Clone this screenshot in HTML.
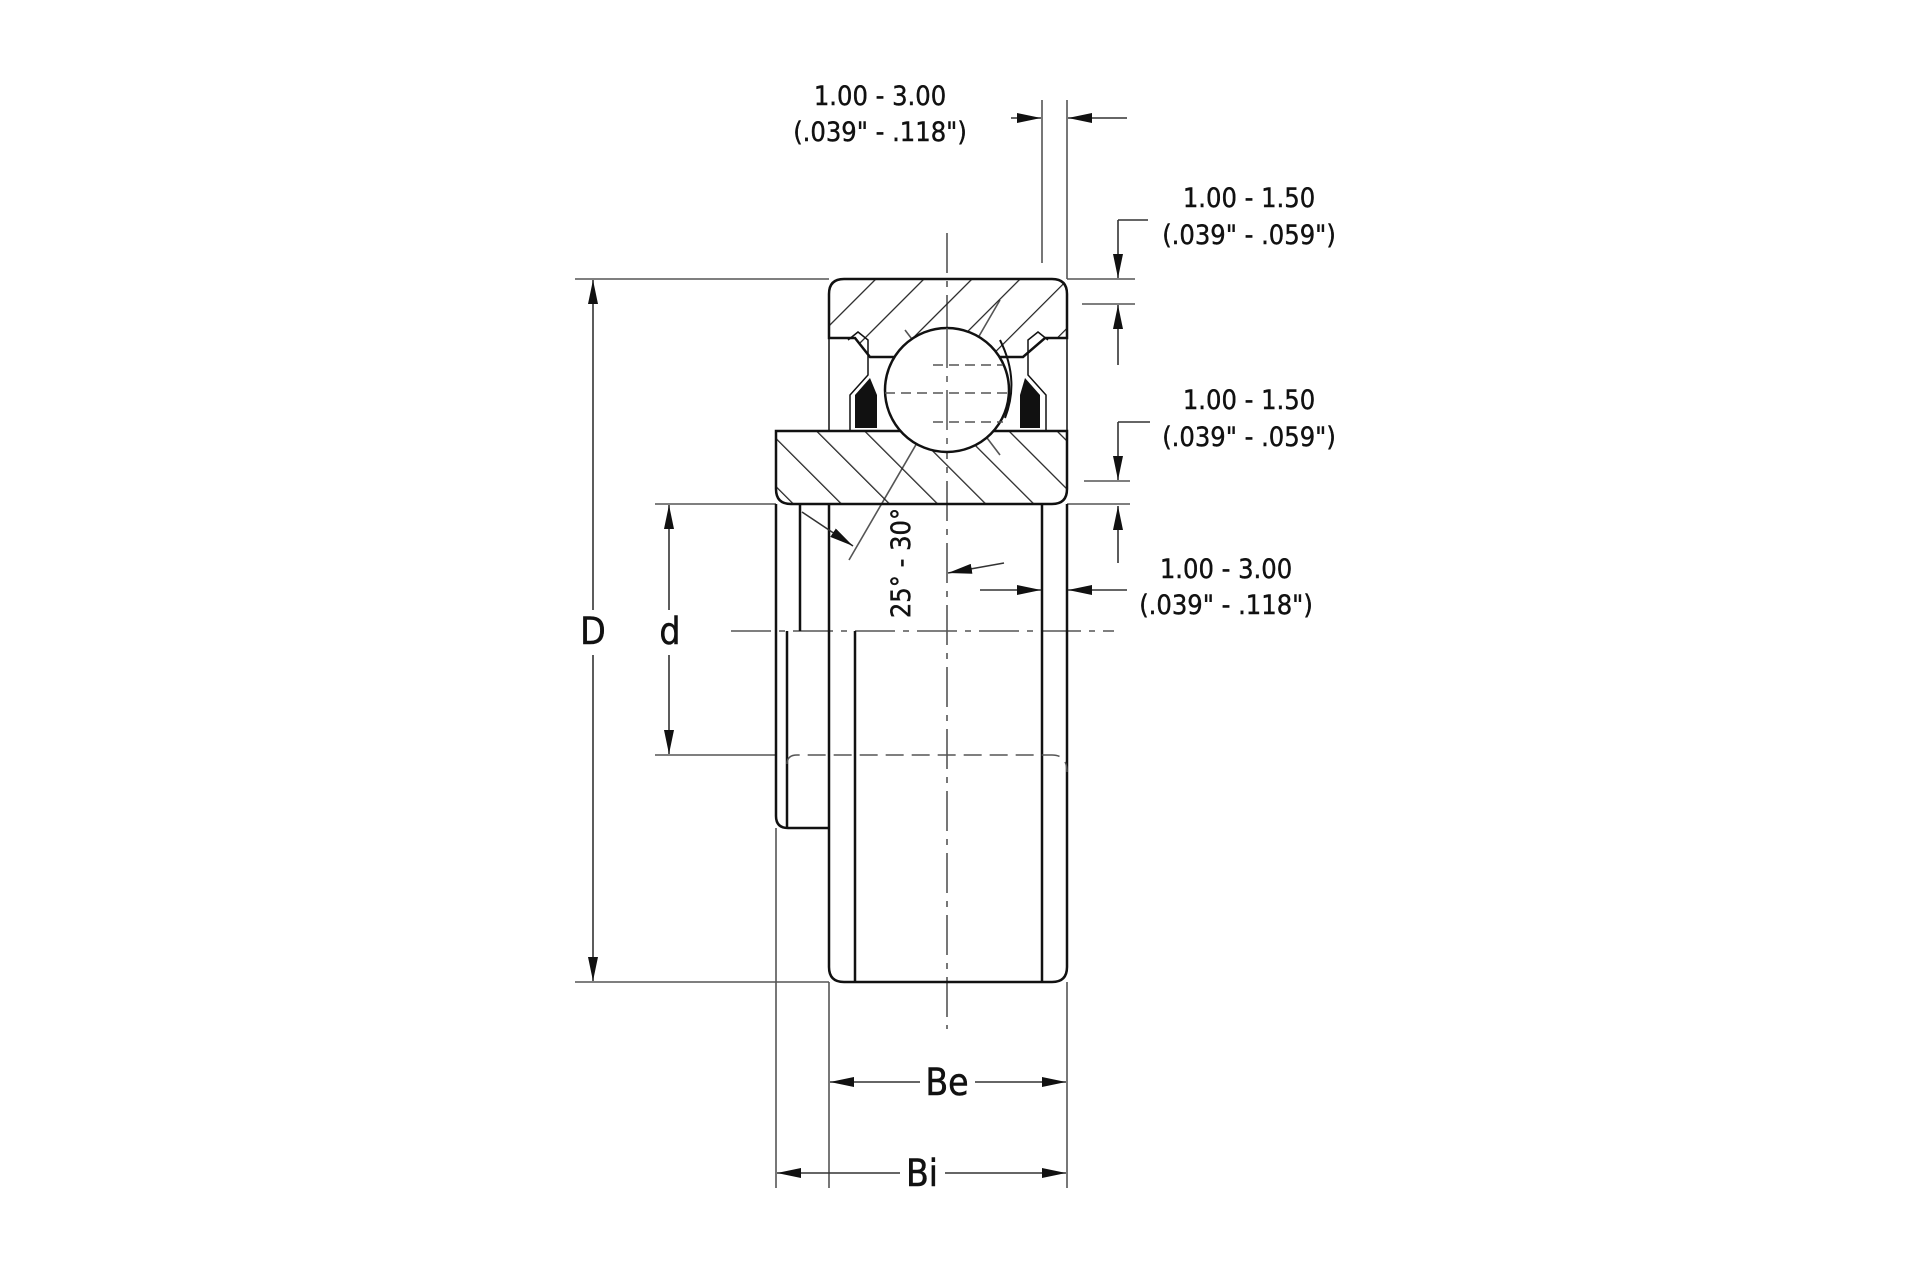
<!DOCTYPE html>
<html><head><meta charset="utf-8"><style>
html,body{margin:0;padding:0;background:#fff;}
svg{display:block;}
text{font-family:"DejaVu Sans Condensed","DejaVu Sans","Liberation Sans",sans-serif;fill:#111;}
</style></head><body>
<svg width="1920" height="1280" viewBox="0 0 1920 1280" xmlns="http://www.w3.org/2000/svg">
<defs>
<pattern id="h1" patternUnits="userSpaceOnUse" width="34" height="34" patternTransform="rotate(45)">
<line x1="0" y1="0" x2="0" y2="34" stroke="#222" stroke-width="2.5"/></pattern>
<pattern id="h2" patternUnits="userSpaceOnUse" width="34" height="34" patternTransform="rotate(-45)">
<line x1="0" y1="0" x2="0" y2="34" stroke="#222" stroke-width="2.5"/></pattern>
<marker id="a" viewBox="0 0 24 10" refX="24" refY="5" markerWidth="24" markerHeight="10" markerUnits="userSpaceOnUse" orient="auto">
<path d="M0,0 L24,5 L0,10 z" fill="#111"/></marker>
</defs>
<g stroke="#555" stroke-width="1.6" fill="none">
<line x1="575" y1="279" x2="829" y2="279"/>
<line x1="575" y1="982" x2="829" y2="982"/>
<line x1="655" y1="504" x2="776" y2="504"/>
<line x1="655" y1="755" x2="776" y2="755"/>
<line x1="1067" y1="279" x2="1135" y2="279"/>
<line x1="1082" y1="304" x2="1135" y2="304"/>
<line x1="1084" y1="481" x2="1130" y2="481"/>
<line x1="1067" y1="504" x2="1130" y2="504"/>
<line x1="1042" y1="100" x2="1042" y2="263"/>
<line x1="1067" y1="100" x2="1067" y2="279"/>
<line x1="776" y1="828" x2="776" y2="1188"/>
<line x1="829" y1="982" x2="829" y2="1188"/>
<line x1="1067" y1="982" x2="1067" y2="1188"/>
<line x1="947" y1="233" x2="947" y2="1029" stroke-dasharray="40,8,6,8"/>
<line x1="731" y1="631" x2="1114" y2="631" stroke-dasharray="40,8,6,8"/>
<line x1="1000" y1="300" x2="849" y2="560"/>
<line x1="905" y1="330" x2="1000" y2="455"/>
</g>
<path d="M844,279 H1052 Q1067,279 1067,294 V338 H1045 L1023,357 H870 L855,338 H829 V294 Q829,279 844,279 Z" fill="url(#h1)" stroke="#111" stroke-width="2.5"/>
<path d="M776,431 H1067 V489 Q1067,504 1052,504 H791 Q776,504 776,489 Z" fill="url(#h2)" stroke="#111" stroke-width="2.5"/>
<circle cx="947" cy="390" r="62" fill="#fff" stroke="#111" stroke-width="2.5"/>
<g stroke="#555" stroke-width="1.5" fill="none" stroke-dasharray="10,6">
<line x1="933" y1="365" x2="1003" y2="365"/><line x1="933" y1="422" x2="1003" y2="422"/>
<line x1="885" y1="393" x2="1009" y2="393"/>
</g>
<line x1="947" y1="328" x2="947" y2="452" stroke="#555" stroke-width="1.5" stroke-dasharray="40,8,6,8"/>
<path d="M1000,340 Q1020,380 1005,418" fill="none" stroke="#111" stroke-width="2"/>
<g stroke="#111" stroke-width="1.5" fill="none">
<path d="M829,338 V431"/><path d="M1067,338 V431"/>
<path d="M848,340 l10,-8 l10,8 v35 l-18,20 v35"/>
<path d="M1048,340 l-10,-8 l-10,8 v35 l18,20 v35"/>
</g>
<path d="M855,395 L870,378 L877,395 V428 H855 Z" fill="#111"/>
<path d="M1040,395 L1025,378 L1020,395 V428 H1040 Z" fill="#111"/>
<g stroke="#111" stroke-width="2.5" fill="none">
<path d="M776,504 V816 Q776,828 788,828 H829"/>
<line x1="800" y1="504" x2="800" y2="631"/>
<line x1="787" y1="631" x2="787" y2="828"/>
<path d="M829,504 V967 Q829,982 844,982 H1052 Q1067,982 1067,967 V504"/>
<line x1="855" y1="631" x2="855" y2="982"/>
<line x1="1042" y1="504" x2="1042" y2="982"/>
</g>
<path d="M787,764 Q787,755 797,755 H1052 Q1067,755 1067,772" fill="none" stroke="#555" stroke-width="1.5" stroke-dasharray="18,8"/>
<g stroke="#333" stroke-width="1.6" fill="none" marker-end="url(#a)">
<line x1="593" y1="610" x2="593" y2="280"/>
<line x1="593" y1="655" x2="593" y2="981"/>
<line x1="669" y1="610" x2="669" y2="505"/>
<line x1="669" y1="655" x2="669" y2="754"/>
<line x1="920" y1="1082" x2="830" y2="1082"/>
<line x1="975" y1="1082" x2="1066" y2="1082"/>
<line x1="900" y1="1173" x2="777" y2="1173"/>
<line x1="945" y1="1173" x2="1066" y2="1173"/>
<line x1="1011" y1="118" x2="1041" y2="118"/>
<line x1="1127" y1="118" x2="1068" y2="118"/>
<line x1="1118" y1="220" x2="1118" y2="278"/>
<line x1="1118" y1="365" x2="1118" y2="305"/>
<line x1="1118" y1="422" x2="1118" y2="480"/>
<line x1="1118" y1="563" x2="1118" y2="506"/>
<line x1="980" y1="590" x2="1041" y2="590"/>
<line x1="1127" y1="590" x2="1068" y2="590"/>
<line x1="1004" y1="563" x2="948" y2="573"/>
<line x1="802" y1="512" x2="853" y2="546"/>
</g>
<g stroke="#333" stroke-width="1.6">
<line x1="1118" y1="220" x2="1148" y2="220"/>
<line x1="1118" y1="422" x2="1150" y2="422"/>
</g>
<g font-size="27" text-anchor="middle" stroke="#111" stroke-width="0.4">
<text x="880" y="105">1.00 - 3.00</text>
<text x="880" y="141">(.039" - .118")</text>
<text x="1249" y="207">1.00 - 1.50</text>
<text x="1249" y="244">(.039" - .059")</text>
<text x="1249" y="409">1.00 - 1.50</text>
<text x="1249" y="446">(.039" - .059")</text>
<text x="1226" y="578">1.00 - 3.00</text>
<text x="1226" y="614">(.039" - .118")</text>
<text transform="translate(910,563) rotate(-90)">25° - 30°</text>
</g>
<g font-size="37" text-anchor="middle" stroke="#111" stroke-width="0.5">
<text x="593" y="644">D</text>
<text x="670" y="644">d</text>
<text x="947" y="1095">Be</text>
<text x="922" y="1186">Bi</text>
</g>
</svg>
</body></html>
